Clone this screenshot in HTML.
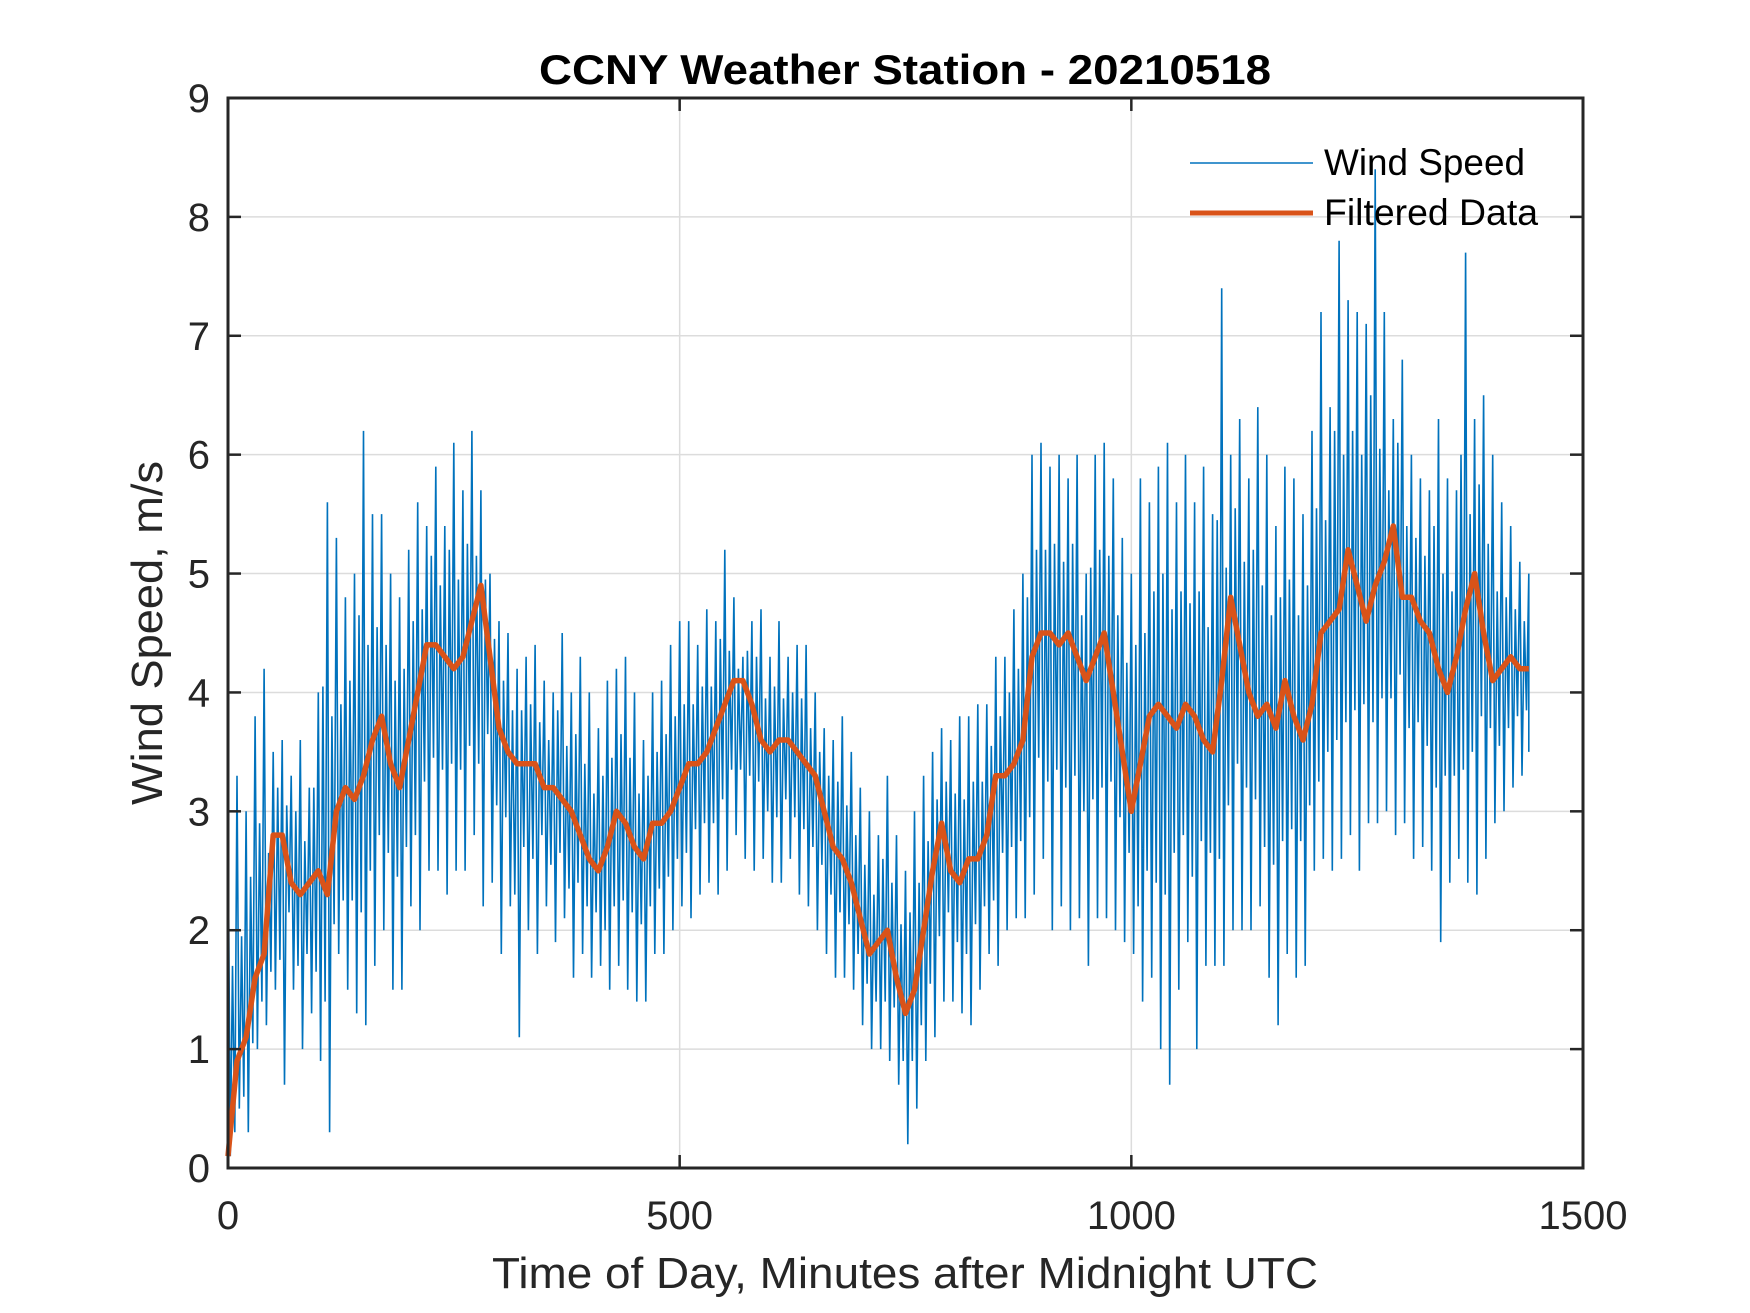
<!DOCTYPE html>
<html><head><meta charset="utf-8"><style>
html,body{margin:0;padding:0;background:#fff;}
svg{display:block;font-family:"Liberation Sans",Arial,sans-serif;}
</style></head><body>
<svg id="chart" width="1750" height="1313" viewBox="0 0 1750 1313" xmlns="http://www.w3.org/2000/svg">
<rect width="1750" height="1313" fill="#fff"/>
<g id="grid"></g>
<g id="series"></g>
<g id="axes"></g>
<text x="905" y="84" text-anchor="middle" font-size="42" font-weight="bold" fill="#000" textLength="732" lengthAdjust="spacingAndGlyphs">CCNY Weather Station - 20210518</text>
<text x="905" y="1288" text-anchor="middle" font-size="44" fill="#262626" textLength="826" lengthAdjust="spacingAndGlyphs">Time of Day, Minutes after Midnight UTC</text>
<text transform="translate(162,633) rotate(-90)" text-anchor="middle" font-size="44" fill="#262626" textLength="344" lengthAdjust="spacingAndGlyphs">Wind Speed, m/s</text>
<g>
<line x1="1190" y1="163" x2="1313" y2="163" stroke="#0072BD" stroke-width="1.6"/>
<text x="1324" y="175" font-size="37" fill="#000" textLength="201" lengthAdjust="spacingAndGlyphs">Wind Speed</text>
<line x1="1190" y1="213" x2="1313" y2="213" stroke="#D95319" stroke-width="5"/>
<text x="1324" y="225" font-size="37" fill="#000" textLength="214" lengthAdjust="spacingAndGlyphs">Filtered Data</text>
</g>
</svg>
<script>
const xTicks = [0, 500, 1000, 1500];
const yTicks = [0, 1, 2, 3, 4, 5, 6, 7, 8, 9];
const binMinutes = [];
for (let t = 0; t <= 1440; t += 10) binMinutes.push(t);
const windHigh = [
3.0,3.3,3.0,3.8,4.2,3.5,3.6,3.3,3.6,3.2,
4.0,5.6,5.3,4.8,5.0,6.2,5.5,5.5,5.0,4.8,
5.2,5.6,5.4,5.9,5.4,6.1,5.7,6.2,5.7,5.0,
4.6,4.5,4.2,4.3,4.4,4.1,4.0,4.5,4.0,4.3,
4.0,3.7,4.1,4.2,4.3,4.0,3.6,4.0,4.1,4.4,
4.6,4.6,4.4,4.7,4.6,5.2,4.8,4.3,4.6,4.7,
4.3,4.6,4.3,4.4,4.4,4.0,3.7,3.6,3.8,3.5,
3.2,3.0,2.8,3.3,2.8,2.5,3.0,3.3,3.5,3.7,
3.6,3.8,3.8,3.9,3.9,4.3,4.3,4.7,5.0,6.0,
6.1,5.9,6.0,5.8,6.0,5.0,6.0,6.1,5.8,5.3,
5.0,5.8,5.6,5.9,6.1,5.6,6.0,5.6,5.9,5.5,
7.4,6.0,6.3,5.8,6.4,6.0,5.4,5.9,5.8,5.5,
6.2,7.2,6.4,7.8,7.3,7.2,7.1,8.4,7.2,6.3,
6.8,6.0,5.8,5.7,6.3,5.8,5.7,7.7,6.3,6.5,
6.0,5.6,5.4,5.1,5.0];
const windLow = [
0.1,0.5,0.3,1.0,1.2,1.5,0.7,1.5,1.0,1.3,
0.9,0.3,1.8,1.5,1.3,1.2,1.7,2.0,1.5,1.5,
2.2,2.0,2.5,2.5,2.3,2.5,2.5,2.8,2.2,2.4,
1.8,2.2,1.1,2.0,1.8,2.2,1.9,2.1,1.6,1.8,
1.6,1.7,1.5,1.7,1.5,1.4,1.4,1.8,1.8,2.0,
2.2,2.1,2.3,2.4,2.3,2.5,2.8,2.6,2.5,2.6,
2.4,2.4,2.6,2.3,2.2,2.0,1.8,1.6,1.6,1.5,
1.2,1.0,1.0,0.9,0.7,0.2,0.5,0.9,1.1,1.4,
1.4,1.3,1.2,1.5,1.8,1.7,2.0,2.1,2.1,2.3,
2.6,2.0,2.2,2.0,2.1,1.7,2.1,2.1,2.0,1.9,
1.8,1.4,1.6,1.0,0.7,1.5,1.9,1.0,1.7,1.7,
1.7,2.0,2.0,2.0,2.2,1.6,1.2,1.8,1.6,1.7,
2.5,2.6,2.5,2.6,2.8,2.5,2.9,2.9,3.0,2.8,
2.9,2.6,2.7,2.5,1.9,2.4,2.6,2.4,2.3,2.6,
2.9,3.0,3.2,3.3,3.5];
const filtered = [
0.1,0.9,1.1,1.6,1.8,2.8,2.8,2.4,2.3,2.4,
2.5,2.3,3.0,3.2,3.1,3.3,3.6,3.8,3.4,3.2,
3.6,4.0,4.4,4.4,4.3,4.2,4.3,4.6,4.9,4.3,
3.7,3.5,3.4,3.4,3.4,3.2,3.2,3.1,3.0,2.8,
2.6,2.5,2.7,3.0,2.9,2.7,2.6,2.9,2.9,3.0,
3.2,3.4,3.4,3.5,3.7,3.9,4.1,4.1,3.9,3.6,
3.5,3.6,3.6,3.5,3.4,3.3,3.0,2.7,2.6,2.4,
2.1,1.8,1.9,2.0,1.6,1.3,1.5,2.0,2.5,2.9,
2.5,2.4,2.6,2.6,2.8,3.3,3.3,3.4,3.6,4.3,
4.5,4.5,4.4,4.5,4.3,4.1,4.3,4.5,4.0,3.5,
3.0,3.4,3.8,3.9,3.8,3.7,3.9,3.8,3.6,3.5,
4.1,4.8,4.4,4.0,3.8,3.9,3.7,4.1,3.8,3.6,
3.9,4.5,4.6,4.7,5.2,4.9,4.6,4.9,5.1,5.4,
4.8,4.8,4.6,4.5,4.2,4.0,4.3,4.7,5.0,4.5,
4.1,4.2,4.3,4.2,4.2];

const NS = "http://www.w3.org/2000/svg";
const L = 228, R = 1583, T = 98, B = 1168;
const xMin = 0, xMax = 1500, yMin = 0, yMax = 9;
function xs(v){ return L + (v - xMin) / (xMax - xMin) * (R - L); }
function ys(v){ return B - (v - yMin) / (yMax - yMin) * (B - T); }
function mk(tag, attrs, parent){
  const e = document.createElementNS(NS, tag);
  for (const k in attrs) e.setAttribute(k, attrs[k]);
  parent.appendChild(e);
  return e;
}
const grid = document.getElementById('grid');
const axes = document.getElementById('axes');
const series = document.getElementById('series');

xTicks.forEach(v => {
  const x = xs(v);
  if (v > xMin && v < xMax) {
    const g = mk('line', {x1:x, y1:T, x2:x, y2:B, stroke:'#dcdcdc', 'stroke-width':1.5}, grid);
    
    
  }
  mk('line', {x1:x, y1:B, x2:x, y2:B-13, stroke:'#262626', 'stroke-width':2.5}, axes);
  mk('line', {x1:x, y1:T, x2:x, y2:T+13, stroke:'#262626', 'stroke-width':2.5}, axes);
  const t = mk('text', {x:x, y:1229, 'text-anchor':'middle', 'font-size':40, fill:'#262626'}, axes);
  
  
  t.textContent = v;
});
yTicks.forEach(v => {
  const y = ys(v);
  if (v > yMin && v < yMax) {
    const g = mk('line', {x1:L, y1:y, x2:R, y2:y, stroke:'#dcdcdc', 'stroke-width':1.5}, grid);
    
    
  }
  mk('line', {x1:L, y1:y, x2:L+13, y2:y, stroke:'#262626', 'stroke-width':2.5}, axes);
  mk('line', {x1:R, y1:y, x2:R-13, y2:y, stroke:'#262626', 'stroke-width':2.5}, axes);
  const t = mk('text', {x:210, y:y+14, 'text-anchor':'end', 'font-size':40, fill:'#262626'}, axes);
  
  
  t.textContent = v;
});
const frame = mk('rect', {x:L, y:T, width:R-L, height:B-T, fill:'none', stroke:'#262626', 'stroke-width':3}, axes);



let d = '';
binMinutes.forEach((t, i) => {
  const nextHigh = i + 1 < windHigh.length ? windHigh[i + 1] : windHigh[i];
  const nextLow = i + 1 < windLow.length ? windLow[i + 1] : windLow[i];
  d += (i ? 'L' : 'M') + xs(t).toFixed(1) + ',' + ys(windHigh[i]).toFixed(1);
  d += 'L' + xs(Math.min(t + 2.5, 1440)).toFixed(1) + ',' + ys(windLow[i]).toFixed(1);
  d += 'L' + xs(Math.min(t + 5, 1440)).toFixed(1) + ',' + ys((filtered[i] + nextHigh) / 2).toFixed(1);
  d += 'L' + xs(Math.min(t + 7.5, 1440)).toFixed(1) + ',' + ys((filtered[i] + nextLow) / 2).toFixed(1);
});
const wind = mk('path', {d:d, fill:'none', stroke:'#0072BD', 'stroke-width':1.6, 'stroke-linejoin':'miter'}, series);



let f = '';
binMinutes.forEach((t, i) => {
  f += (i ? 'L' : 'M') + xs(t).toFixed(1) + ',' + ys(filtered[i]).toFixed(1);
});
const filt = mk('path', {d:f, fill:'none', stroke:'#D95319', 'stroke-width':5.5, 'stroke-linejoin':'round'}, series);


</script>
</body></html>
